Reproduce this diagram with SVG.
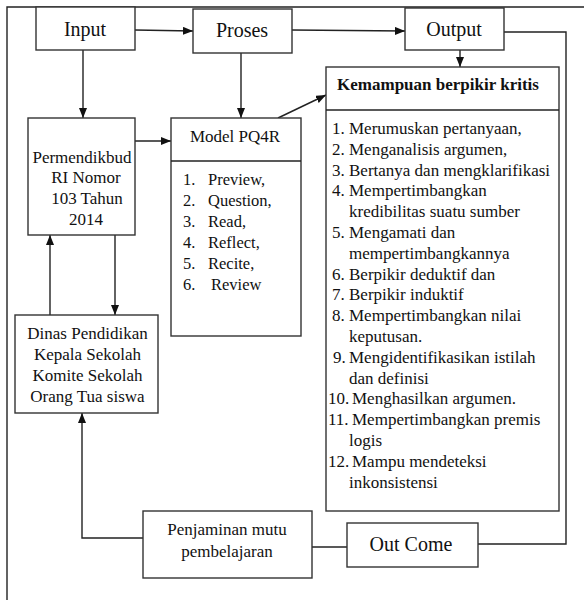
<svg xmlns="http://www.w3.org/2000/svg" width="584" height="600" viewBox="0 0 584 600" font-family="'Liberation Serif', 'DejaVu Serif', serif">
<defs>
<marker id="ah" viewBox="0 0 10 8" refX="10" refY="4" markerWidth="10" markerHeight="8" markerUnits="userSpaceOnUse" orient="auto">
<path d="M0,0 L10,4 L0,8 Z" fill="#111"/>
</marker>
<style>
.box{fill:#fff;stroke:#333;stroke-width:1.4}
.ln{fill:none;stroke:#222;stroke-width:1.4}
.arr{fill:none;stroke:#222;stroke-width:1.4;marker-end:url(#ah)}
text{fill:#111}
.t20{font-size:20px}
.t17{font-size:17px}
.t165{font-size:16.5px}
.c{text-anchor:middle}
.b{font-weight:bold}
</style>
</defs>
<rect width="584" height="600" fill="#fff"/>
<path class="ln" d="M584,7 H7 V600"/>

<g id="connectors">
<path class="arr" d="M135,30 L193,31"/>
<path class="arr" d="M292,30 L405,31"/>
<path class="arr" d="M460,50 V67"/>
<path class="ln" d="M504,32 H566 V544 H478"/>
<path class="arr" d="M83,50 V118"/>
<path class="arr" d="M241,53 V118"/>
<path class="arr" d="M135,141 H171"/>
<path class="arr" d="M278,118 L326,95"/>
<path class="arr" d="M50,315 V235"/>
<path class="arr" d="M115,235 V315"/>
<path class="ln" d="M312,547 H347"/>
<path class="arr" d="M143,538 H82 V413"/>
</g>

<g id="input">
<rect class="box" x="36" y="7" width="99" height="43"/>
<text class="t20 c" x="85" y="36" font-family="'Liberation Serif', serif">Input</text>
</g>
<g id="proses">
<rect class="box" x="193" y="9" width="99" height="44"/>
<text class="t20 c" x="242" y="37">Proses</text>
</g>
<g id="output">
<rect class="box" x="405" y="8" width="99" height="42"/>
<text class="t20 c" x="454" y="36">Output</text>
</g>

<g id="permendikbud">
<rect class="box" x="28" y="118" width="107" height="117"/>
<text class="t17 c" x="82" y="163">Permendikbud</text>
<text class="t17 c" x="86" y="183">RI Nomor</text>
<text class="t17 c" x="87" y="204">103 Tahun</text>
<text class="t17 c" x="86" y="225">2014</text>
</g>

<g id="pq4r">
<rect class="box" x="171" y="118" width="130" height="218"/>
<line class="ln" x1="171" y1="161" x2="301" y2="161"/>
<text class="t17 c" x="235" y="142">Model PQ4R</text>
<text class="t165"><tspan x="183" y="185">1.</tspan><tspan x="208">Preview,</tspan></text>
<text class="t165"><tspan x="183" y="206">2.</tspan><tspan x="208">Question,</tspan></text>
<text class="t165"><tspan x="183" y="227">3.</tspan><tspan x="208">Read,</tspan></text>
<text class="t165"><tspan x="183" y="248">4.</tspan><tspan x="208">Reflect,</tspan></text>
<text class="t165"><tspan x="183" y="269">5.</tspan><tspan x="208">Recite,</tspan></text>
<text class="t165"><tspan x="183" y="290">6.</tspan><tspan x="211">Review</tspan></text>
</g>

<g id="dinas">
<rect class="box" x="15" y="315" width="143" height="98"/>
<text class="t17 c" x="87.5" y="339">Dinas Pendidikan</text>
<text class="t17 c" x="87.5" y="360">Kepala Sekolah</text>
<text class="t17 c" x="87.5" y="381">Komite Sekolah</text>
<text class="t17 c" x="87.5" y="402">Orang Tua siswa</text>
</g>

<g id="kemampuan">
<rect class="box" x="326" y="67" width="233" height="444"/>
<line class="ln" x1="326" y1="110" x2="559" y2="110"/>
<text class="t17 c b" x="438" y="90">Kemampuan berpikir kritis</text>
<g class="t17">
<text><tspan x="332" y="134">1.</tspan><tspan x="349">Merumuskan pertanyaan,</tspan></text>
<text><tspan x="332" y="154.8">2.</tspan><tspan x="349">Menganalisis argumen,</tspan></text>
<text><tspan x="332" y="175.6">3.</tspan><tspan x="349">Bertanya dan mengklarifikasi</tspan></text>
<text><tspan x="332" y="196.4">4.</tspan><tspan x="349">Mempertimbangkan</tspan></text>
<text x="349" y="217.2">kredibilitas suatu sumber</text>
<text><tspan x="332" y="238">5.</tspan><tspan x="349">Mengamati dan</tspan></text>
<text x="349" y="258.8">mempertimbangkannya</text>
<text><tspan x="332" y="279.6">6.</tspan><tspan x="349">Berpikir deduktif dan</tspan></text>
<text><tspan x="332" y="300.4">7.</tspan><tspan x="349">Berpikir induktif</tspan></text>
<text><tspan x="332" y="321.2">8.</tspan><tspan x="349">Mempertimbangkan nilai</tspan></text>
<text x="349" y="342">keputusan.</text>
<text><tspan x="333" y="362.8">9.</tspan><tspan x="349">Mengidentifikasikan istilah</tspan></text>
<text x="349" y="383.6">dan definisi</text>
<text><tspan x="328" y="404.4">10.</tspan><tspan x="352">Menghasilkan argumen.</tspan></text>
<text><tspan x="328" y="425.2">11.</tspan><tspan x="352">Mempertimbangkan premis</tspan></text>
<text x="349" y="446">logis</text>
<text><tspan x="328" y="466.8">12.</tspan><tspan x="352">Mampu mendeteksi</tspan></text>
<text x="349" y="487.6">inkonsistensi</text>
</g>
</g>

<g id="penjaminan">
<rect class="box" x="143" y="511" width="169" height="67"/>
<text class="t17 c" x="227" y="535">Penjaminan mutu</text>
<text class="t17 c" x="227" y="557">pembelajaran</text>
</g>

<g id="outcome">
<rect class="box" x="347" y="523" width="131" height="44"/>
<text class="t20 c" x="411" y="551">Out Come</text>
</g>
</svg>
